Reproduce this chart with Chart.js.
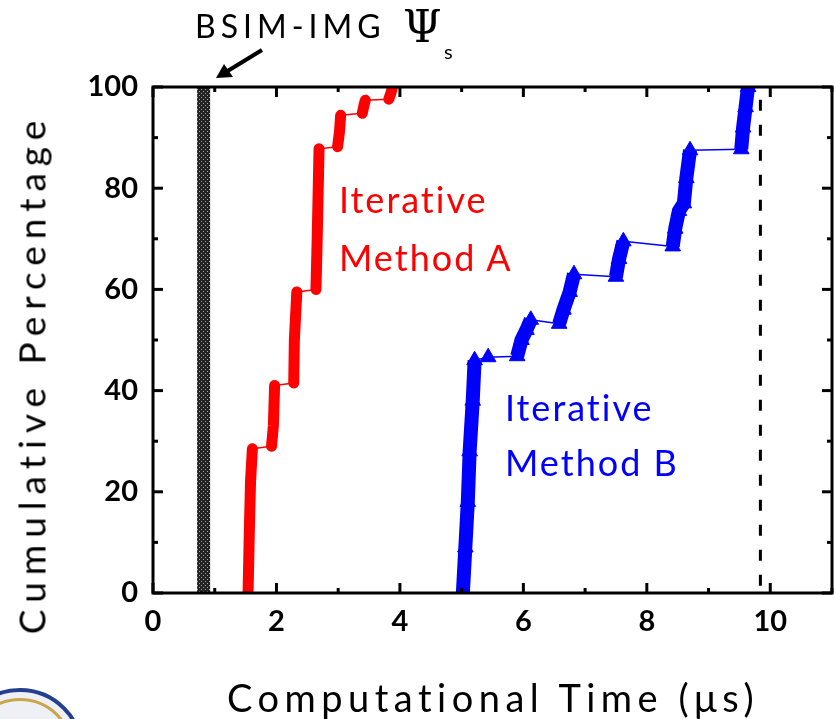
<!DOCTYPE html>
<html>
<head>
<meta charset="utf-8">
<script src="https://cdn.jsdelivr.net/npm/chart.js@4"></script>
<style>
    html, body { margin: 0; padding: 0; background: #fff; overflow: hidden; }
    #wrap { position: relative; width: 834px; height: 719px; overflow: hidden; }
    #chart { position: absolute; left: 0; top: 0; }
    .note { position: absolute; font-family: Lato, sans-serif; line-height: 1; white-space: nowrap; }
    .red { color: #ff0000; }
    .blue { color: #0000ff; }
    .seal { position: absolute; left: -44px; top: 688px; width: 128px; height: 128px; border-radius: 50%;
            background: #eef0f6; border: 4px solid #23408e; box-sizing: border-box; }
    .seal::after { content: ''; position: absolute; left: 6px; top: 6px; right: 6px; bottom: 6px;
            border-radius: 50%; border: 3px solid #c9a64a; }
</style>
</head>
<body>
<div id="wrap">
    <canvas id="chart" width="842" height="719"></canvas>
    <div class="seal"></div>

    <div class="note" style="left:195px; top:10px; font-size:32px; letter-spacing:5px;">BSIM-IMG</div>
    <div class="note" style="left:403px; top:5px; font-size:44px; font-family:'DejaVu Serif', serif;">&Psi;</div>
    <div class="note" style="left:444px; top:41px; font-size:20px;">s</div>

    <div class="note red" style="left:339px; top:181px; font-size:36px; letter-spacing:2px;">Iterative</div>
    <div class="note red" style="left:339px; top:239px; font-size:36px; letter-spacing:2px;">Method A</div>
    <div class="note blue" style="left:505px; top:389px; font-size:36px; letter-spacing:2px;">Iterative</div>
    <div class="note blue" style="left:505px; top:444px; font-size:36px; letter-spacing:2px;">Method B</div>

    <div class="note" style="left:0; width:834px; top:678px; text-align:center; font-size:38px; letter-spacing:5.5px; padding-left:152px; box-sizing:border-box;">Computational Time (&mu;s)</div>
    <div class="note" style="left:31px; top:374px; font-size:37px; letter-spacing:7px; transform: translate(-50%, -50%) rotate(-90deg);">Cumulative Percentage</div>
</div>

<script>
// tick labels
const timeTicks = [0, 2, 4, 6, 8, 10];
const pctTicks = [0, 20, 40, 60, 80, 100];

// BSIM-IMG surface potential solution (us, %)
const bsimTime = [0.82, 0.82, 0.82];
const bsimPct = [0, 50, 100];

// Iterative method A
const methodATime = [1.54, 1.56, 1.58, 1.61, 1.92, 1.95, 1.97, 2.28, 2.29, 2.33, 2.64, 2.66, 2.69, 2.99, 3.02, 3.04, 3.39, 3.42, 3.44, 3.82, 3.86, 3.88];
const methodAPct = [0, 12, 22, 28.5, 29, 33, 41, 41.5, 50, 59.5, 60, 70, 87.8, 88.2, 91, 94.4, 94.8, 96.5, 97.4, 97.6, 99, 100];

// Iterative method B
const methodBTime = [5.02, 5.06, 5.10, 5.13, 5.18, 5.21, 5.43, 5.90, 5.97, 6.05, 6.12, 6.58, 6.65, 6.75, 6.82, 7.50, 7.55, 7.62, 8.42, 8.46, 8.52, 8.60, 8.64, 8.70, 9.53, 9.56, 9.60, 9.64];
const methodBPct = [0, 9, 18, 28, 38, 46, 46.6, 46.8, 50, 52, 54, 53.2, 56, 59.5, 63, 62.5, 66, 69.5, 68.5, 72, 75.5, 77, 82, 87.5, 87.7, 92, 96, 100];

// dashed reference line
const limitTime = [9.84, 9.84];
const limitPct = [97.5, 0];

const toPoints = (xs, ys) => xs.map((v, i) => ({ x: v, y: ys[i] }));

// steep parts of a curve are the dense marker columns, flat parts are the thin jumps
const strokeFor = (thick, thin) => ctx =>
    Math.abs(ctx.p1.y - ctx.p0.y) > Math.abs(ctx.p1.x - ctx.p0.x) ? thick : thin;

function makeDotPattern() {
    const c = document.createElement('canvas');
    c.width = 4; c.height = 4;
    const g = c.getContext('2d');
    g.fillStyle = '#222';
    g.fillRect(0, 0, 4, 4);
    g.fillStyle = '#a8a8a8';
    g.fillRect(1, 1, 1, 1);
    g.fillRect(3, 3, 1, 1);
    return g.createPattern(c, 'repeat');
}

const framePlugin = {
    id: 'frame',
    afterDatasetsDraw(chart) {
        const { ctx, chartArea: a, scales: { x, y } } = chart;
        const line = (x1, y1, x2, y2) => {
            ctx.beginPath(); ctx.moveTo(x1, y1); ctx.lineTo(x2, y2); ctx.stroke();
        };
        ctx.save();
        ctx.strokeStyle = '#000';
        ctx.lineWidth = 3;
        ctx.strokeRect(a.left, a.top, a.right - a.left, a.bottom - a.top);

        for (let v = 0; v <= 11; v++) {
            const px = x.getPixelForValue(v);
            const len = v % 2 ? 5 : 10;
            line(px, a.bottom, px, a.bottom - len);
            line(px, a.top, px, a.top + len);
        }
        for (let v = 0; v <= 100; v += 10) {
            const py = y.getPixelForValue(v);
            const len = v % 20 ? 5 : 10;
            line(a.left, py, a.left + len, py);
            line(a.right, py, a.right - len, py);
        }

        // arrow pointing at the BSIM-IMG column
        ctx.lineWidth = 4;
        line(262, 50, 226, 72);
        ctx.fillStyle = '#000';
        ctx.beginPath();
        ctx.moveTo(216, 78);
        ctx.lineTo(224, 64);
        ctx.lineTo(233, 77);
        ctx.closePath();
        ctx.fill();
        ctx.restore();
    }
};

const tickFont = { family: 'Lato', size: 29, weight: 'bold' };

new Chart(document.getElementById('chart'), {
    type: 'scatter',
    data: {
        datasets: [
            {
                label: 'BSIM-IMG',
                data: toPoints(bsimTime, bsimPct),
                showLine: true,
                borderColor: makeDotPattern(),
                borderWidth: 13,
                borderCapStyle: 'butt',
                pointRadius: 0
            },
            {
                label: 'Iterative Method A',
                data: toPoints(methodATime, methodAPct),
                showLine: true,
                borderColor: '#ff0000',
                borderCapStyle: 'round',
                borderJoinStyle: 'round',
                pointRadius: 0,
                segment: { borderWidth: strokeFor(11, 1.5) }
            },
            {
                label: 'Iterative Method B',
                data: toPoints(methodBTime, methodBPct),
                showLine: true,
                borderColor: '#0000ff',
                backgroundColor: '#0000ff',
                borderCapStyle: 'butt',
                pointStyle: 'triangle',
                pointRadius: 9,
                pointBorderWidth: 1,
                segment: { borderWidth: strokeFor(14, 1.5) }
            },
            {
                label: 'limit',
                data: toPoints(limitTime, limitPct),
                showLine: true,
                borderColor: '#000',
                borderWidth: 3,
                borderDash: [11, 14],
                pointRadius: 0
            }
        ]
    },
    options: {
        responsive: false,
        animation: false,
        events: [],
        layout: { padding: { top: 87, right: 3, left: 0, bottom: 0 } },
        plugins: { legend: { display: false }, tooltip: { enabled: false } },
        scales: {
            x: {
                type: 'linear',
                min: 0,
                max: 11,
                grid: { display: false, drawTicks: false },
                border: { display: false },
                afterBuildTicks: s => { s.ticks = timeTicks.map(v => ({ value: v })); },
                afterFit: s => { s.height = 126; },
                ticks: { color: '#000', font: tickFont, padding: 11, maxRotation: 0 }
            },
            y: {
                type: 'linear',
                min: 0,
                max: 100,
                grid: { display: false, drawTicks: false },
                border: { display: false },
                afterBuildTicks: s => { s.ticks = pctTicks.map(v => ({ value: v })); },
                afterFit: s => { s.width = 153; },
                ticks: { color: '#000', font: tickFont, padding: 15 }
            }
        }
    },
    plugins: [framePlugin]
});
</script>
</body>
</html>
